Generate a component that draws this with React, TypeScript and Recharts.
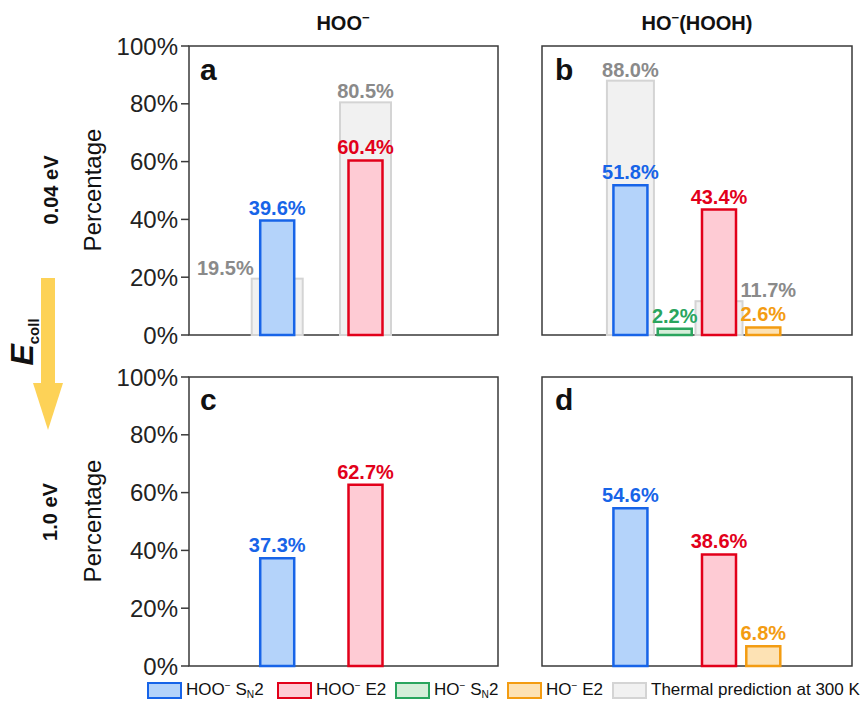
import { Bar, BarChart, Cell, LabelList, ReferenceArea, XAxis, YAxis } from "recharts";

// 生成チャネル（x 方向の並び順）と色
const channels = ["HOO⁻ SN2", "HO⁻ SN2", "HOO⁻ E2", "HO⁻ E2"];
const channelStroke = ["#1764e8", "#2aa55e", "#e2001a", "#f39c12"];
const channelFill = ["#b4d3fa", "#d5eed9", "#fecbd4", "#fde2b4"];
const thermalStroke = "#d4d4d4";
const thermalFill = "#f1f1f1";
const thermalText = "#8a8a8a";

const yTicks = [0, 20, 40, 60, 80, 100];

// 0.04 eV
const lowHOO = [39.6, null, 60.4, null];
const lowHOOThermal = [19.5, null, 80.5, null];
const lowHOOH = [51.8, 2.2, 43.4, 2.6];
const lowHOOHThermal = [88.0, null, 11.7, null];
// 1.0 eV
const highHOO = [37.3, null, 62.7, null];
const highHOOH = [54.6, null, 38.6, 6.8];

const legendItems = [
  { name: "HOO⁻ SN2", stroke: channelStroke[0], fill: channelFill[0] },
  { name: "HOO⁻ E2", stroke: channelStroke[2], fill: channelFill[2] },
  { name: "HO⁻ SN2", stroke: channelStroke[1], fill: channelFill[1] },
  { name: "HO⁻ E2", stroke: channelStroke[3], fill: channelFill[3] },
  { name: "Thermal prediction at 300 K", stroke: thermalStroke, fill: thermalFill },
];

const FONT = "'Liberation Sans', Arial, sans-serif";

type Side = "left" | "middle" | "right";

function Panel(props: {
  left: number;
  top: number;
  width: number;
  margin: { top: number; right: number; bottom: number; left: number };
  values: (number | null)[];
  thermal?: (number | null)[];
  thermalSide?: Record<number, Side>;
  thermalBarSize?: number;
  showAxis: boolean;
}) {
  const { values, thermal, thermalSide = {}, showAxis } = props;
  const tw = props.thermalBarSize ?? 50;
  const rows = channels.map((name, i) => ({
    x: i,
    name,
    value: values[i],
    thermal: thermal ? thermal[i] : null,
  }));

  // LabelList の index は null を飛ばすので、値から行を引き直す
  const mainLabel = (p: any) => {
    const { x, y, width, value } = p;
    if (value == null) return null;
    const i = values.indexOf(value);
    return (
      <text
        x={x + width / 2}
        y={y - 6}
        textAnchor="middle"
        fill={channelStroke[i]}
        fontFamily={FONT}
        fontWeight="bold"
        fontSize={20}
      >
        {value.toFixed(1)}%
      </text>
    );
  };

  const thermalLabel = (p: any) => {
    const { x, y, width, value } = p;
    if (value == null || !thermal) return null;
    const i = thermal.indexOf(value);
    const side = thermalSide[i] ?? "middle";
    const cx = x + width / 2;
    const tx = side === "left" ? cx - tw / 2 + 2 : side === "right" ? cx + tw / 2 - 2 : cx;
    const anchor = side === "left" ? "end" : side === "right" ? "start" : "middle";
    return (
      <text
        x={tx}
        y={y - 4}
        textAnchor={anchor}
        fill={thermalText}
        fontFamily={FONT}
        fontWeight="bold"
        fontSize={20}
      >
        {value.toFixed(1)}%
      </text>
    );
  };

  // 熱予測の棒は主棒より太いので、中心を保ったまま幅だけ広げて描く
  const thermalShape = (p: any) => {
    const { x, y, width, height } = p;
    if (height == null || height <= 0) return <g />;
    const cx = x + width / 2;
    return (
      <rect x={cx - tw / 2} y={y} width={tw} height={height} fill={thermalFill} stroke={thermalStroke} strokeWidth={2} />
    );
  };

  return (
    <div style={{ position: "absolute", left: props.left, top: props.top }}>
      <BarChart width={props.width} height={330} data={rows} margin={props.margin}>
        <XAxis xAxisId="t" dataKey="x" type="number" domain={[-2, 5]} hide />
        <XAxis xAxisId="m" dataKey="x" type="number" domain={[-2, 5]} hide />
        <YAxis
          domain={[0, 100]}
          ticks={yTicks}
          interval={0}
          hide={!showAxis}
          width={79}
          tickFormatter={(v: number) => `${v}%`}
          axisLine={false}
          tickSize={8}
          tickMargin={3}
          tickLine={{ stroke: "#3a3a3a", strokeWidth: 1.5 }}
          tick={{ fontSize: 24, fill: "#222", fontFamily: FONT }}
        />
        {thermal && (
          <Bar
            xAxisId="t"
            dataKey="thermal"
            barSize={30}
            fill={thermalFill}
            stroke={thermalStroke}
            shape={thermalShape}
            isAnimationActive={false}
          >
            <LabelList dataKey="thermal" content={thermalLabel} />
          </Bar>
        )}
        <Bar xAxisId="m" dataKey="value" barSize={34} strokeWidth={2.5} isAnimationActive={false}>
          {rows.map((r, i) => (
            <Cell key={r.name} fill={channelFill[i]} stroke={channelStroke[i]} />
          ))}
          <LabelList dataKey="value" content={mainLabel} />
        </Bar>
        <ReferenceArea
          xAxisId="m"
          x1={-2}
          x2={5}
          y1={0}
          y2={100}
          fill="none"
          stroke="#3a3a3a"
          strokeWidth={1.5}
          fillOpacity={0}
        />
      </BarChart>
    </div>
  );
}

function Sup({ children }: { children: string }) {
  return <sup style={{ fontSize: "0.6em", verticalAlign: "0.6em", lineHeight: 0 }}>{children}</sup>;
}
function Sub({ children }: { children: string }) {
  return <sub style={{ fontSize: "0.6em", verticalAlign: "-0.25em", lineHeight: 0 }}>{children}</sub>;
}

function LegendText({ name }: { name: string }) {
  const m = name.match(/^(HOO|HO)⁻ (SN2|E2)$/);
  if (!m) return <span>{name}</span>;
  return (
    <span>
      {m[1]}
      <Sup>−</Sup> {m[2] === "SN2" ? (<>S<Sub>N</Sub>2</>) : "E2"}
    </span>
  );
}

const legendLefts = [147, 277, 395, 507, 612];

export default function App() {
  const topMargin = { top: 20, right: 12, bottom: 21, left: 0 };
  const topRightMargin = { top: 20, right: 8, bottom: 21, left: 12 };
  const botMargin = { top: 21, right: 12, bottom: 20, left: 0 };
  const botRightMargin = { top: 21, right: 8, bottom: 20, left: 12 };
  return (
    <div style={{ position: "relative", width: 862, height: 711, background: "#fff", fontFamily: FONT, overflow: "hidden" }}>
      <style>{`body{margin:0}`}</style>

      <Panel left={110} top={26} width={400} margin={topMargin} values={lowHOO} thermal={lowHOOThermal}
        thermalSide={{ 0: "left", 2: "middle" }} thermalBarSize={51} showAxis />
      <Panel left={530} top={26} width={330} margin={topRightMargin} values={lowHOOH} thermal={lowHOOHThermal}
        thermalSide={{ 0: "middle", 2: "right" }} thermalBarSize={47} showAxis={false} />
      <Panel left={110} top={356} width={400} margin={botMargin} values={highHOO} showAxis />
      <Panel left={530} top={356} width={330} margin={botRightMargin} values={highHOOH} showAxis={false} />

      <svg width={862} height={711} style={{ position: "absolute", left: 0, top: 0, pointerEvents: "none" }}>
        <g fontFamily={FONT} fontWeight="bold" fontSize={20} fill="#111" textAnchor="middle">
          <text x={343} y={30}>
            HOO<tspan fontSize={13} dy={-8}>−</tspan>
          </text>
          <text x={697} y={30}>
            HO<tspan fontSize={13} dy={-8}>−</tspan>
            <tspan dy={8}>(HOOH)</tspan>
          </text>
        </g>

        <g fontFamily={FONT} fontWeight="bold" fontSize={30} fill="#111">
          <text x={200} y={80}>a</text>
          <text x={555} y={80}>b</text>
          <text x={200} y={410}>c</text>
          <text x={555} y={410}>d</text>
        </g>

        <g fontFamily={FONT} fontSize={24} fill="#111" textAnchor="middle">
          <text transform="translate(101,190) rotate(-90)">Percentage</text>
          <text transform="translate(101,521) rotate(-90)">Percentage</text>
        </g>
        <g fontFamily={FONT} fontSize={20} fontWeight="bold" fill="#111" textAnchor="middle">
          <text transform="translate(58,190) rotate(-90)">0.04 eV</text>
          <text transform="translate(57,512) rotate(-90)">1.0 eV</text>
        </g>

        <rect x={41} y={278} width={14} height={106} fill="#fdd257" />
        <polygon points="33,383 63,383 48,430" fill="#fdd257" />
        <text transform="translate(33,342) rotate(-90)" fontFamily={FONT} fontWeight="bold" fill="#111" textAnchor="middle">
          <tspan fontSize={32} fontStyle="italic">E</tspan>
          <tspan fontSize={15} dy={6}>coll</tspan>
        </text>
      </svg>

      {legendItems.map((it, i) => (
        <div
          key={it.name}
          style={{ position: "absolute", left: legendLefts[i], top: 680, display: "flex", alignItems: "center", fontSize: 17, color: "#111", whiteSpace: "nowrap" }}
        >
          <span style={{ display: "inline-block", width: 31, height: 13, background: it.fill, border: `2px solid ${it.stroke}`, marginRight: 4 }} />
          <LegendText name={it.name} />
        </div>
      ))}
    </div>
  );
}
